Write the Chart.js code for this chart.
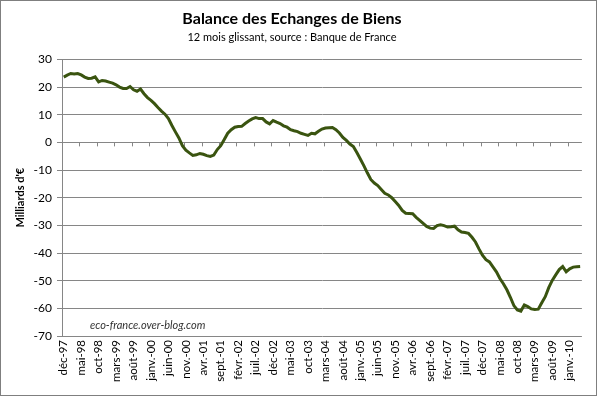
<!DOCTYPE html>
<html>
<head>
<meta charset="utf-8">
<script src="https://cdn.jsdelivr.net/npm/chart.js@4"></script>
<style>
  html, body { margin: 0; padding: 0; background: #fff; }
  #wrap { width: 598px; height: 397px; }
</style>
</head>
<body>
<div id="wrap"><canvas id="balanceChart" width="598" height="397"></canvas></div>
<script>
// month labels, first point = déc-97, one point per month
const monthNames = ["janv.", "févr.", "mars", "avr.", "mai", "juin", "juil.", "août", "sept.", "oct", "nov.", "déc"];
const startYear = 1997;
const startMonth = 11; // déc
const labelEvery = 5;

// Balance des échanges de biens, cumul 12 mois, Mds €
const balance = [
    23.6, 24.3, 24.9, 24.7, 24.9, 24.4, 23.6, 23.1, 23.2, 23.7,
    21.9, 22.4, 22.2, 21.8, 21.4, 20.8, 20.0, 19.5, 19.5, 20.2,
    19.0, 18.5, 19.3, 17.6, 16.2, 15.2, 14.0, 12.6, 11.3, 10.2,
    8.6, 6.1, 3.8, 1.6, -1.2, -2.8, -3.8, -4.7, -4.5, -4.0,
    -4.3, -4.8, -5.1, -4.6, -2.6, -1.2, 1.0, 3.3, 4.6, 5.5,
    5.7, 5.8, 6.8, 7.7, 8.5, 9.0, 8.6, 8.6, 7.4, 6.7,
    7.9, 7.3, 6.8, 6.0, 5.5, 4.6, 4.2, 3.9, 3.3, 2.9,
    2.5, 3.3, 3.1, 4.0, 4.8, 5.2, 5.3, 5.4, 4.6, 3.4,
    1.8, 0.7, -0.6, -1.5, -3.7, -6.0, -8.4, -11.0, -13.4, -14.7,
    -15.6, -17.0, -18.4, -19.0, -20.0, -21.4, -22.8, -24.6, -25.6, -25.7,
    -25.8, -27.1, -28.2, -29.3, -30.4, -31.0, -31.1, -30.1, -29.8, -30.1,
    -30.6, -30.5, -30.3, -31.6, -32.4, -32.6, -32.9, -34.3, -36.0, -38.5,
    -40.8, -42.4, -43.2, -45.0, -46.8, -49.2, -51.1, -53.3, -56.0, -59.0,
    -60.6, -61.0, -58.8, -59.4, -60.2, -60.4, -60.3, -58.0, -55.8, -52.5,
    -49.9, -47.9, -46.0, -44.9, -46.8, -45.7, -45.1, -45.0, -44.9
];

const yMin = -70;
const yMax = 30;
const yStep = 10;

const months = [];
for (let i = 0; i < balance.length; i++) {
    const m = (startMonth + i) % 12;
    const y = startYear + Math.floor((startMonth + i) / 12);
    months.push(monthNames[m] + "-" + String(y % 100).padStart(2, "0"));
}

const gridColor = "#868686";

// small tick marks on the zero line + frame + watermark
const decorations = {
    id: "decorations",
    beforeDatasetsDraw(chart) {
        const ctx = chart.ctx;
        const x = chart.scales.x;
        const y0 = chart.scales.y.getPixelForValue(0);
        const half = (x.getPixelForValue(1) - x.getPixelForValue(0)) / 2;
        ctx.save();
        ctx.strokeStyle = gridColor;
        ctx.lineWidth = 1;
        ctx.beginPath();
        for (let k = labelEvery; k < balance.length; k += labelEvery) {
            const px = Math.round(x.getPixelForValue(k) - half) + 0.5;
            ctx.moveTo(px, y0);
            ctx.lineTo(px, y0 + 4);
        }
        ctx.stroke();
        ctx.restore();
    },
    afterDraw(chart) {
        const ctx = chart.ctx;
        const area = chart.chartArea;
        ctx.save();
        ctx.font = "italic 11px Lato";
        ctx.fillStyle = "#333";
        ctx.textBaseline = "middle";
        ctx.fillText("eco-france.over-blog.com", area.left + 28, chart.scales.y.getPixelForValue(-66.3));
        ctx.strokeStyle = "#7f7f7f";
        ctx.lineWidth = 1;
        ctx.strokeRect(0.5, 0.5, 596, 395);
        ctx.restore();
    }
};

const ctx = document.getElementById("balanceChart").getContext("2d");
new Chart(ctx, {
    type: "line",
    data: {
        labels: months,
        datasets: [{
            label: "Balance",
            data: balance,
            borderColor: "#3a5410",
            borderWidth: 3,
            pointRadius: 0,
            tension: 0,
            fill: false
        }]
    },
    options: {
        responsive: false,
        animation: false,
        layout: { padding: { left: 0, right: 14, top: 0, bottom: 0 } },
        plugins: {
            legend: { display: false },
            tooltip: { enabled: false },
            title: {
                display: true,
                text: "Balance des Echanges de Biens",
                color: "#000",
                font: { family: "Lato", size: 16, weight: "bold" },
                padding: { top: 9, bottom: 3 }
            },
            subtitle: {
                display: true,
                text: "12 mois glissant, source : Banque de France",
                color: "#000",
                font: { family: "Lato", size: 11 },
                padding: { top: 0, bottom: 15 }
            }
        },
        scales: {
            x: {
                offset: true,
                grid: { display: false, drawTicks: false },
                border: { display: false },
                ticks: {
                    autoSkip: false,
                    minRotation: 90,
                    maxRotation: 90,
                    padding: 4,
                    color: "#000",
                    font: { family: "Lato", size: 11.5 },
                    callback: function (value, index) {
                        return index % labelEvery === 0 ? months[index] : "";
                    }
                },
                afterFit: function (scale) { scale.height = 61; }
            },
            y: {
                min: yMin,
                max: yMax,
                ticks: {
                    stepSize: yStep,
                    color: "#000",
                    padding: 5,
                    font: { family: "Lato", size: 12 }
                },
                grid: { color: gridColor, tickLength: 5 },
                border: { color: gridColor },
                title: {
                    display: true,
                    text: "Milliards d'€",
                    color: "#000",
                    font: { family: "Lato", size: 11, weight: "bold" },
                    padding: { top: 14, bottom: 0 }
                },
                afterFit: function (scale) { scale.width = 62; }
            }
        }
    },
    plugins: [decorations]
});
</script>
</body>
</html>
